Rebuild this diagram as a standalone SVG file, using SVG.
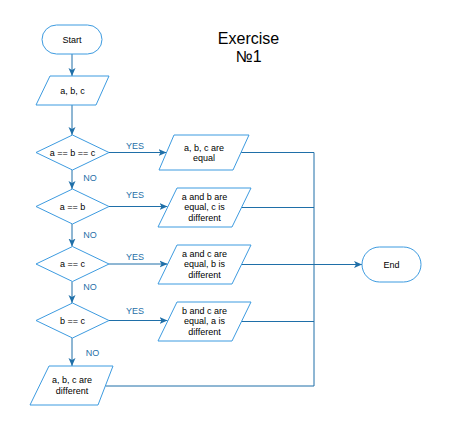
<svg xmlns="http://www.w3.org/2000/svg" width="457" height="439" viewBox="0 0 457 439">
<style>
.n{fill:#fff;stroke:#3d9be0;stroke-width:1}
.t{font-family:"Liberation Sans",Arial,sans-serif;font-size:9px;fill:#000;text-anchor:middle}
.l{font-family:"Liberation Sans",Arial,sans-serif;font-size:9px;fill:#1f6fa8;text-anchor:middle}
.c{fill:none;stroke:#1f6fa8;stroke-width:1}
.title{font-family:"Liberation Sans",Arial,sans-serif;font-size:16px;fill:#000;text-anchor:middle}
</style>
<defs>
<marker id="arr" markerUnits="userSpaceOnUse" markerWidth="9" markerHeight="8" refX="8" refY="4" orient="auto">
<path d="M0,0.5 L8,4 L0,7.5 L2,4 z" fill="#1f6fa8"/>
</marker>
</defs>
<rect width="457" height="439" fill="#fff"/>
<g id="title">
<text class="title" x="248.5" y="44">Exercise</text>
<text class="title" x="248.5" y="62">№1</text>
</g>
<g id="connectors">
<path class="c" d="M72,54 V76" marker-end="url(#arr)"/>
<path class="c" d="M72,105 V135" marker-end="url(#arr)"/>
<path class="c" d="M72,170 V189" marker-end="url(#arr)"/>
<path class="c" d="M72,224 V246.5" marker-end="url(#arr)"/>
<path class="c" d="M72,281.5 V303" marker-end="url(#arr)"/>
<path class="c" d="M72,338 V366" marker-end="url(#arr)"/>
<path class="c" d="M109,152.5 H166.5" marker-end="url(#arr)"/>
<path class="c" d="M109,206.5 H167.5" marker-end="url(#arr)"/>
<path class="c" d="M109,264 H167.5" marker-end="url(#arr)"/>
<path class="c" d="M109,320.5 H167.5" marker-end="url(#arr)"/>
<path class="c" d="M241,152.5 H314 V386 H105.5"/>
<path class="c" d="M241.5,207.5 H314"/>
<path class="c" d="M241.5,321.5 H314"/>
<path class="c" d="M241.5,264.5 H362" marker-end="url(#arr)"/>
</g>
<g id="labels">
<text class="l" x="135" y="149">YES</text>
<text class="l" x="135" y="197.5">YES</text>
<text class="l" x="135" y="259.5">YES</text>
<text class="l" x="135" y="313.5">YES</text>
<text class="l" x="90" y="180.5">NO</text>
<text class="l" x="90" y="237.5">NO</text>
<text class="l" x="90" y="290">NO</text>
<text class="l" x="92.5" y="356">NO</text>
</g>
<g id="start">
<rect class="n" x="42" y="25" width="60" height="29" rx="14.5"/>
<text class="t" x="72" y="42.5">Start</text>
</g>
<g id="input">
<polygon class="n" points="50,76 109,76 96,105 36,105"/>
<text class="t" x="72.5" y="94">a, b, c</text>
</g>
<g id="d1">
<polygon class="n" points="72.5,135 109,152.5 72.5,170 36,152.5"/>
<text class="t" x="72.5" y="155.5">a == b == c</text>
</g>
<g id="d2">
<polygon class="n" points="72.5,189 109,206.5 72.5,224 36,206.5"/>
<text class="t" x="72.5" y="209.5">a == b</text>
</g>
<g id="d3">
<polygon class="n" points="72.5,246.5 109,264 72.5,281.5 36,264"/>
<text class="t" x="72.5" y="267">a == c</text>
</g>
<g id="d4">
<polygon class="n" points="72.5,303 109,320.5 72.5,338 36,320.5"/>
<text class="t" x="72.5" y="323.5">b == c</text>
</g>
<g id="o1">
<polygon class="n" points="174,135 249,135 233,170 159,170"/>
<text class="t" x="204" y="150.5">a, b, c are</text>
<text class="t" x="204" y="161">equal</text>
</g>
<g id="o2">
<polygon class="n" points="177,188 251,188 232,227 158,227"/>
<text class="t" x="204.5" y="199.5">a and b are</text>
<text class="t" x="204.5" y="210">equal, c is</text>
<text class="t" x="204.5" y="220.5">different</text>
</g>
<g id="o3">
<polygon class="n" points="177,245 251,245 232,284 158,284"/>
<text class="t" x="204.5" y="256.5">a and c are</text>
<text class="t" x="204.5" y="267">equal, b is</text>
<text class="t" x="204.5" y="277.5">different</text>
</g>
<g id="o4">
<polygon class="n" points="177,302 251,302 232,341 158,341"/>
<text class="t" x="204.5" y="313.5">b and c are</text>
<text class="t" x="204.5" y="324">equal, a is</text>
<text class="t" x="204.5" y="334.5">different</text>
</g>
<g id="o5">
<polygon class="n" points="49,366 113,366 98,405 30,405"/>
<text class="t" x="72" y="383">a, b, c are</text>
<text class="t" x="72" y="393.5">different</text>
</g>
<g id="end">
<rect class="n" x="362" y="247" width="59" height="35" rx="17.5"/>
<text class="t" x="391.5" y="268">End</text>
</g>
</svg>
